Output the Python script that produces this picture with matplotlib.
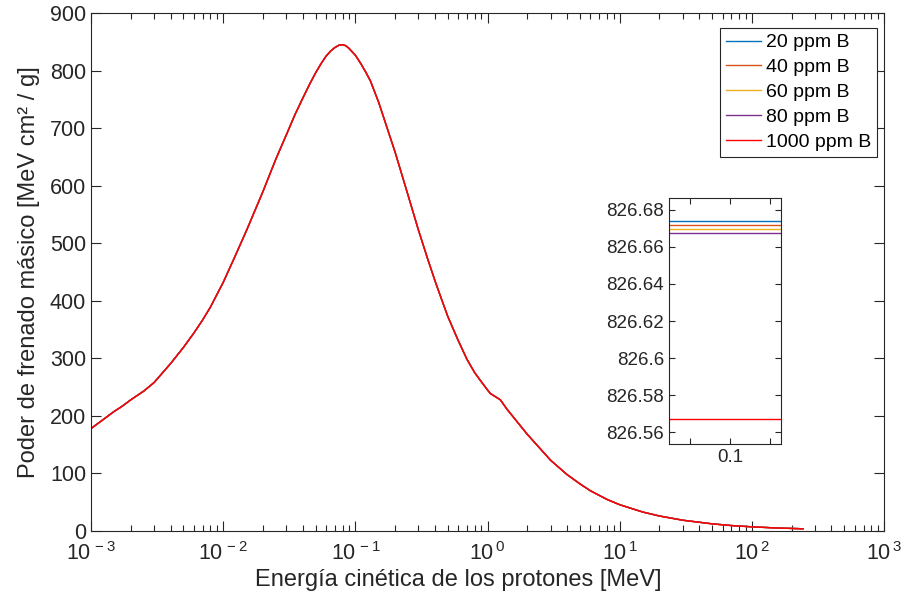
import numpy as np
import matplotlib
matplotlib.use("Agg")
import matplotlib.pyplot as plt
from matplotlib.ticker import FixedLocator, NullFormatter

plt.rcParams['font.family'] = ['Liberation Sans', 'DejaVu Sans']
plt.rcParams['mathtext.fontset'] = 'custom'
plt.rcParams['mathtext.rm'] = 'Liberation Sans'
plt.rcParams['mathtext.it'] = 'Liberation Sans'

# datos
energia = [0.001, 0.0015, 0.0017, 0.002, 0.0025, 0.003, 0.004, 0.005, 0.006, 0.007,
           0.008, 0.01, 0.012, 0.015, 0.02, 0.025, 0.03, 0.035, 0.04, 0.045,
           0.05, 0.055, 0.06, 0.065, 0.07, 0.075, 0.08, 0.085, 0.09, 0.1,
           0.11, 0.12, 0.13, 0.15, 0.2, 0.25, 0.3, 0.35, 0.4, 0.45,
           0.5, 0.6, 0.7, 0.8, 0.9, 1.0, 1.05, 1.25, 1.4, 1.7,
           2, 3, 4, 5, 6, 8, 10, 15, 20, 30,
           50, 70, 100, 150, 200, 244]
poder = [178, 208, 216, 228, 243, 258, 291, 319, 344, 367,
         389, 432, 472, 522, 590, 646, 688, 724, 752, 776,
         796, 812, 825, 834, 840, 844, 845, 843, 838, 826.67,
         812, 797, 782, 745, 658, 584, 523, 475, 435, 402,
         373, 331, 298, 275, 259, 245, 239, 228, 212, 188,
         168, 123, 98, 82, 70, 55, 45.7, 32.9, 26.1, 18.8,
         12.5, 9.5, 7.3, 5.4, 4.5, 3.9]

etiquetas = ['20 ppm B', '40 ppm B', '60 ppm B', '80 ppm B', '1000 ppm B']
colores = ['#0072BD', '#D95319', '#EDB120', '#7E2F8E', 'red']
# valor a 0.1 MeV (ventana ampliada)
valor_01 = [826.6739, 826.6717, 826.6696, 826.6674, 826.5674]

fig = plt.figure(figsize=(9.05, 6.07), dpi=100)
ax = fig.add_axes([0.1006, 0.1252, 0.8762, 0.8534])
gris = '#262626'

for i in range(len(etiquetas)):
    y = np.array(poder) + (valor_01[i] - valor_01[0])
    ax.plot(energia, y, color=colores[i], lw=1.0, label=etiquetas[i])

ax.set_xscale('log')
ax.set_xlim(1e-3, 1e3)
ax.set_ylim(0, 900)
ax.set_yticks(np.arange(0, 901, 100))
dec = [1e-3, 1e-2, 1e-1, 1e0, 1e1, 1e2, 1e3]
ax.xaxis.set_major_locator(FixedLocator(dec))
ax.set_xticklabels([r'$10^{\,-3}$', r'$10^{\,-2}$', r'$10^{\,-1}$', r'$10^{\,0}$',
                    r'$10^{\,1}$', r'$10^{\,2}$', r'$10^{\,3}$'])
ax.tick_params(which='both', direction='in', top=True, right=True, colors=gris,
               labelsize=15.5, width=0.8)
ax.tick_params(which='major', length=7)
ax.tick_params(which='minor', length=4)
ax.tick_params(axis='x', pad=8)
for s in ax.spines.values():
    s.set_color(gris)
    s.set_linewidth(0.8)
ax.set_xlabel('Energía cinética de los protones [MeV]', fontsize=17, color=gris)
ax.xaxis.set_label_coords(0.463, -0.074)
ax.set_ylabel('Poder de frenado másico [MeV cm² / g]', fontsize=17, color=gris,
              labelpad=7)

leg = ax.legend(loc='upper right', bbox_to_anchor=(0.991, 0.971), fontsize=14,
                fancybox=False, framealpha=1, edgecolor=gris, handlelength=1.8,
                handletextpad=0.25, labelspacing=0.37, borderpad=0.3,
                borderaxespad=0)
leg.get_frame().set_linewidth(0.8)

# ventana ampliada
ins = fig.add_axes([0.7392, 0.2685, 0.1238, 0.4053])
for i in range(len(etiquetas)):
    ins.axhline(valor_01[i], color=colores[i], lw=1.0)
ins.set_xlim(0.0848, 0.1127)
ins.set_ylim(826.5537, 826.6863)
ins.set_xticks([0.1])
ins.set_xticklabels(['0.1'])
ins.xaxis.set_minor_locator(FixedLocator([0.09, 0.11]))
ins.xaxis.set_minor_formatter(NullFormatter())
yt = [826.56, 826.58, 826.6, 826.62, 826.64, 826.66, 826.68]
ins.set_yticks(yt)
ins.set_yticklabels(['826.56', '826.58', '826.6', '826.62', '826.64', '826.66', '826.68'])
ins.tick_params(which='both', direction='in', top=True, right=True, colors=gris,
                labelsize=13.5, width=0.8)
ins.tick_params(which='major', length=4)
ins.tick_params(which='minor', length=4)
for s in ins.spines.values():
    s.set_color(gris)
    s.set_linewidth(0.8)

fig.savefig('out.png', dpi=100)
